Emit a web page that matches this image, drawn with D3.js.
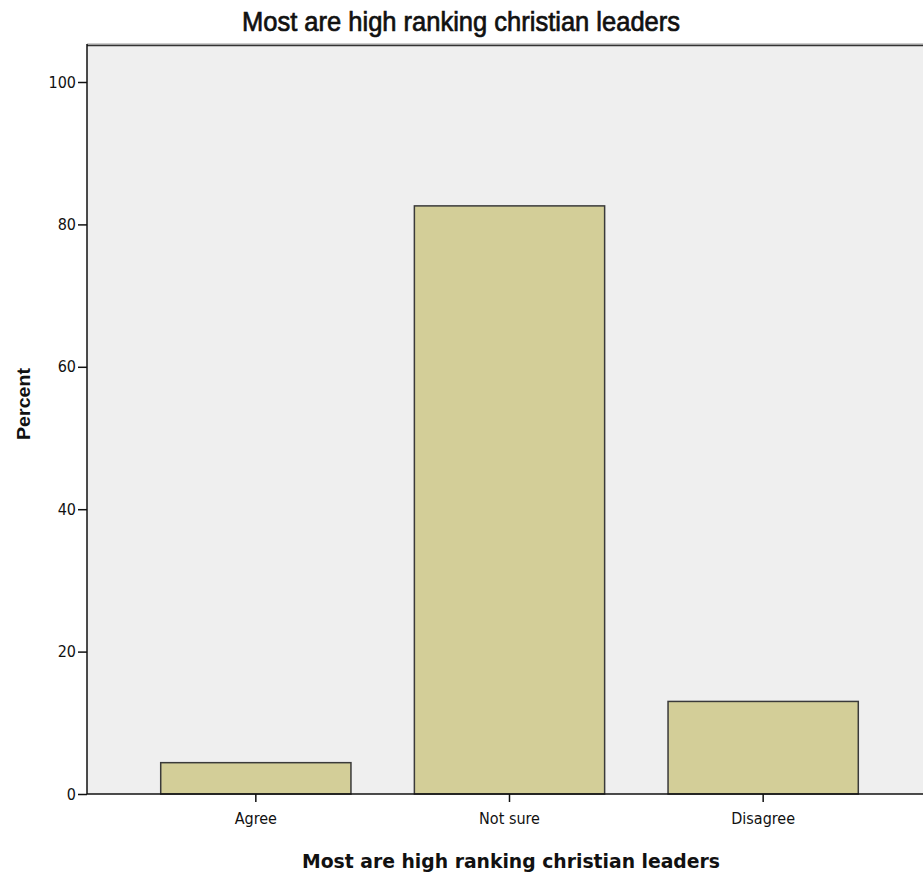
<!DOCTYPE html>
<html><head><meta charset="utf-8">
<script src="https://cdn.jsdelivr.net/npm/d3@7"></script>
<style>
body{margin:0;background:#fff;}
.narrow{font-family:"Liberation Sans Narrow","Arial Narrow","DejaVu Sans Condensed",sans-serif;}
</style>
</head><body>
<svg id="chart" width="923" height="880"></svg>
<script>
const categories = ["Agree", "Not sure", "Disagree"];
const percentValues = [4.4, 82.6, 13.0];
const yTicks = [0, 20, 40, 60, 80, 100];
const chartTitle = "Most are high ranking christian leaders";
const xTitle = "Most are high ranking christian leaders";
const yTitle = "Percent";

const svg = d3.select("#chart");
const plotLeft = 87, plotRight = 935, plotTop = 44, plotBottom = 794;

const y = d3.scaleLinear().domain([0, 100]).range([plotBottom, 82]);
const x = d3.scaleBand().domain(categories).range([129, 890]).paddingInner(0.25).paddingOuter(0.125);

// background
svg.append("rect").attr("x", plotLeft).attr("y", plotTop)
  .attr("width", plotRight - plotLeft).attr("height", plotBottom - plotTop)
  .attr("fill", "#efefef");
svg.append("line").attr("x1", plotLeft).attr("x2", plotRight).attr("y1", plotTop).attr("y2", plotTop)
  .attr("stroke", "#9a9a9a").attr("stroke-width", 1);
svg.append("line").attr("x1", plotLeft).attr("x2", plotRight).attr("y1", plotTop + 1.5).attr("y2", plotTop + 1.5)
  .attr("stroke", "#333").attr("stroke-width", 1.5);

// bars
svg.append("g").selectAll("rect").data(categories).join("rect")
  .attr("x", d => x(d))
  .attr("y", (d, i) => y(percentValues[i]))
  .attr("width", x.bandwidth())
  .attr("height", (d, i) => y(0) - y(percentValues[i]))
  .attr("fill", "#d3ce98")
  .attr("stroke", "#3a3a3a").attr("stroke-width", 1.5);

// y axis
const yAxis = svg.append("g").attr("transform", `translate(${plotLeft},0)`)
  .call(d3.axisLeft(y).tickValues(yTicks).tickSize(9).tickPadding(2).tickFormat(d3.format("d")));
yAxis.select(".domain").attr("d", `M0,${plotTop}V${plotBottom}`).attr("stroke", "#111").attr("stroke-width", 1.5);
yAxis.selectAll(".tick line").attr("stroke", "#111").attr("stroke-width", 1.5);
yAxis.selectAll(".tick text").attr("class", "narrow").attr("font-size", 16).attr("fill", "#111");

// x axis
const xAxis = svg.append("g").attr("transform", `translate(0,${plotBottom})`)
  .call(d3.axisBottom(x).tickSize(8).tickPadding(11));
xAxis.select(".domain").attr("d", `M${plotLeft},0H${plotRight}`).attr("stroke", "#111").attr("stroke-width", 1.5);
xAxis.selectAll(".tick line").attr("stroke", "#111").attr("stroke-width", 1.5);
xAxis.selectAll(".tick text").attr("class", "narrow").attr("font-size", 16).attr("fill", "#111");

// titles
svg.append("text").attr("x", 461).attr("y", 31)
  .attr("text-anchor", "middle").attr("font-family", "'Liberation Sans',Arial,sans-serif")
  .attr("font-size", 27).attr("fill", "#111").attr("stroke", "#111").attr("stroke-width", 0.7)
  .attr("textLength", 438).attr("lengthAdjust", "spacingAndGlyphs")
  .text(chartTitle);
svg.append("text").attr("x", 511).attr("y", 868)
  .attr("text-anchor", "middle").attr("font-family", "'DejaVu Sans Condensed','DejaVu Sans',sans-serif")
  .attr("font-size", 20).attr("font-weight", "bold").attr("fill", "#111")
  .attr("textLength", 418).attr("lengthAdjust", "spacingAndGlyphs")
  .text(xTitle);
svg.append("text").attr("transform", "translate(30,404) rotate(-90)")
  .attr("text-anchor", "middle").attr("font-family", "'Liberation Sans',Arial,sans-serif")
  .attr("font-size", 18).attr("font-weight", "bold").attr("fill", "#111")
  .attr("textLength", 72).attr("lengthAdjust", "spacingAndGlyphs")
  .text(yTitle);
</script>
</body></html>
